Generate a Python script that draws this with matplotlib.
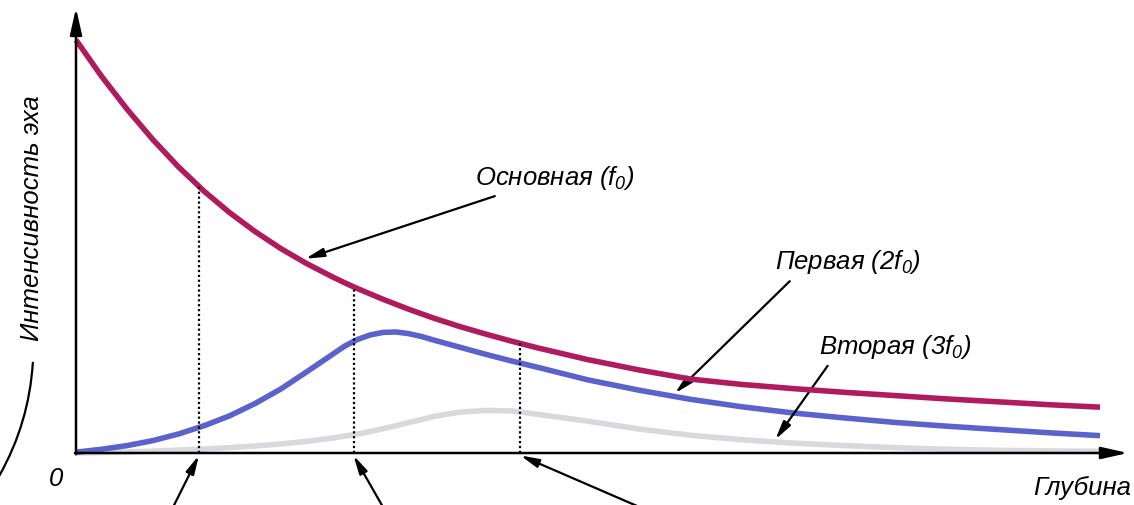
import numpy as np
import matplotlib.pyplot as plt
from matplotlib.patches import FancyArrowPatch

# depth grid (arbitrary units, 0..100) and echo intensity for each harmonic
depth = [0, 2.5, 5, 7.5, 10, 12.5, 15, 17.5, 20, 22.5, 25, 26.25, 27.5, 28.75,
         30, 31.25, 32.5, 33.75, 35, 37.5, 40, 42.5, 45, 50, 55, 60, 65, 70,
         75, 80, 85, 90, 95, 100]
fundamental = [100, 91.2, 83.2, 75.9, 69.3, 63.4, 58.2, 53.6, 49.5, 45.9, 42.7,
               41.2, 39.8, 38.5, 37.2, 36.0, 34.8, 33.7, 32.6, 30.6, 28.8, 27.1,
               25.5, 22.6, 20.1, 17.9, 16.6, 15.6, 14.7, 13.9, 13.1, 12.4, 11.7,
               11.1]
second = [0.2, 0.9, 1.8, 3.0, 4.6, 6.6, 9.0, 12.0, 15.5, 19.6, 23.8, 25.9,
          27.5, 28.6, 29.2, 29.3, 28.9, 28.2, 27.3, 25.6, 23.9, 22.3, 20.8,
          17.7, 15.2, 13.0, 11.2, 9.7, 8.5, 7.4, 6.5, 5.7, 4.9, 4.2]
third = [0, 0.12, 0.25, 0.45, 0.7, 0.95, 1.3, 1.7, 2.2, 2.8, 3.6, 4.1, 4.6,
         5.2, 5.9, 6.6, 7.4, 8.1, 8.9, 9.9, 10.3, 10.2, 9.4, 7.7, 5.8, 4.3,
         3.2, 2.4, 1.8, 1.3, 0.9, 0.65, 0.5, 0.4]

# depths marked with dotted lines
marks = [12.0, 27.1, 43.4]

labels = ['Основная ($f_0$)', 'Первая ($2f_0$)', 'Вторая ($3f_0$)']

plt.rcParams['font.family'] = ['Liberation Sans', 'DejaVu Sans']
plt.rcParams['mathtext.fontset'] = 'custom'
plt.rcParams['mathtext.rm'] = 'Liberation Sans:italic'
plt.rcParams['mathtext.it'] = 'Liberation Sans:italic'

fig = plt.figure(figsize=(11.34, 5.05), dpi=100)
ax = fig.add_axes([76 / 1134, 52 / 505, 1024 / 1134, 413 / 505])
ax.set_xlim(0, 100)
ax.set_ylim(0, 100)
ax.axis('off')

red = '#b01a5f'
blue = '#5a62cc'
gray = '#d9d8de'

line_kw = dict(lw=4.0, solid_capstyle='butt', solid_joinstyle='round', clip_on=False)
ax.plot(depth, third, color=gray, zorder=2, **line_kw)
ax.plot(depth, second, color=blue, zorder=3, **line_kw)
ax.plot(depth, fundamental, color=red, zorder=4, **line_kw)

# dotted verticals up to the fundamental curve
for m in marks:
    top = np.interp(m, depth, fundamental)
    ax.plot([m, m], [0, top], color='black', lw=1.6, ls=(0, (1, 1.2)), zorder=5)

# axes with arrows
axis_arrow = dict(arrowstyle='-|>,head_length=0.8,head_width=0.18', color='black',
                  lw=1.8, shrinkA=0, shrinkB=0, mutation_scale=20)
ax.annotate('', xy=(1.0273, 0), xytext=(-0.001, 0), xycoords='axes fraction',
            arrowprops=axis_arrow, zorder=6, annotation_clip=False)
ax.annotate('', xy=(0, 1.0775), xytext=(0, -0.003), xycoords='axes fraction',
            arrowprops=axis_arrow, zorder=6, annotation_clip=False)

txt = dict(fontsize=18.5, style='italic', color='black')
small_arrow = dict(arrowstyle='-|>,head_length=0.55,head_width=0.13', color='black',
                   lw=1.6, shrinkA=0, shrinkB=0, mutation_scale=20)

# curve labels with pointers
ax.text(46.8, 66.6, labels[0], ha='center', va='center', **txt)
ax.annotate('', xy=(22.4, np.interp(22.4, depth, fundamental) + 1.0), xytext=(40.9, 62.2),
            arrowprops=small_arrow)
ax.text(75.4, 46.2, labels[1], ha='center', va='center', **txt)
ax.annotate('', xy=(58.5, np.interp(58.5, depth, second) + 0.8), xytext=(69.7, 41.6),
            arrowprops=small_arrow)
ax.text(80.0, 25.7, labels[2], ha='center', va='center', **txt)
ax.annotate('', xy=(68.3, np.interp(68.3, depth, third) + 0.6), xytext=(73.4, 21.1),
            arrowprops=small_arrow)

# arrows from below pointing at the marked depths
tails = [(-21, -42), (24, -42), (97, -42)]
for m, off in zip(marks, tails):
    ax.annotate('', xy=(m, -0.6), xytext=off, textcoords='offset points',
                arrowprops=small_arrow, annotation_clip=False)

# axis texts
fig.text(32 / 1134, 1 - 218 / 505, 'Интенсивность эха', rotation=90,
         ha='center', va='center', **txt)
fig.text(56 / 1134, 1 - 479 / 505, '0', ha='center', va='center', **txt)
fig.text(1131 / 1134, 1 - 488 / 505, 'Глубина', ha='right', va='center', **txt)

# leader line from the y label
fig.add_artist(FancyArrowPatch(
    (33, 505 - 360), (-2, 505 - 478), transform=None,
    arrowstyle='-', connectionstyle='arc3,rad=-0.12', color='black', lw=1.6))

fig.savefig('out.png', dpi=100)
